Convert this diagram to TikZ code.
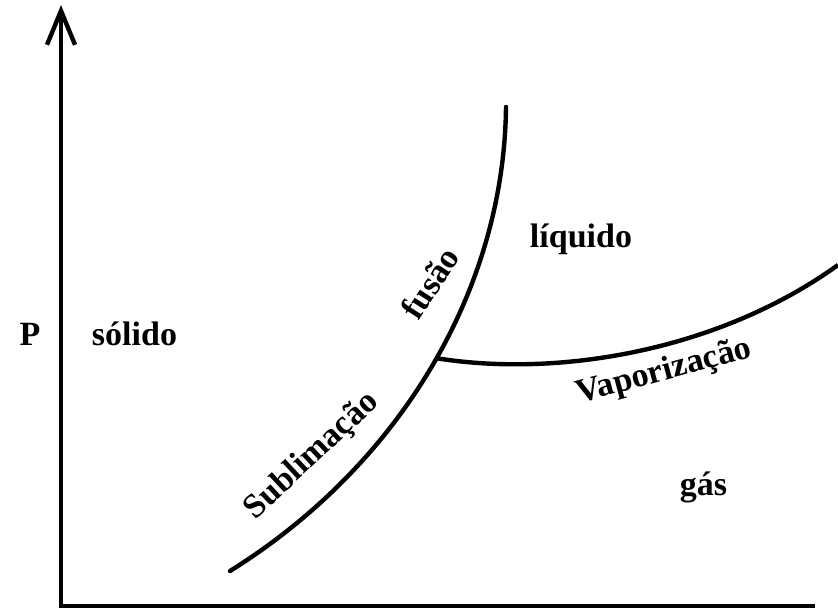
\documentclass[tikz,border=0pt]{standalone}
\usepackage{fontspec}
\setmainfont{Liberation Serif}
\usetikzlibrary{arrows.meta}
\begin{document}
\begin{tikzpicture}[x=1pt,y=-1pt,
  lbl/.style={font=\fontsize{34}{40}\selectfont\bfseries, inner sep=0pt},
  axisline/.style={line width=4.4pt},
  curveline/.style={line width=4.4pt, line cap=round}]
\useasboundingbox (0,0) rectangle (838,608);
% axes
\coordinate (O) at (61,606);
\coordinate (Ytop) at (61,5);
\coordinate (Xend) at (815,606);
\draw[axisline, -{Straight Barb[length=34pt,width=28pt,line width=4.4pt]}] (O) -- (Ytop);
\draw[axisline] ([xshift=-2.2pt]O) -- (Xend);
% sublimation + fusion curve
\coordinate (S0) at (230,571);
\coordinate (F1) at (506,107);
\draw[curveline] (S0) .. controls (400,465) and (504,290) .. coordinate[pos=0.52] (TP) (F1);
% vaporization curve
\coordinate (V1) at (838,265);
\draw[curveline, line cap=butt] (TP) .. controls (560,378) and (720,350) .. (V1);
% labels
\node[lbl, anchor=base] (P) at (30,345) {P};
\node[lbl, anchor=base] (sol) at (134.5,345) {sólido};
\node[lbl, anchor=base] (liq) at (581,247) {líquido};
\node[lbl, anchor=base] (gas) at (703.5,495) {gás};
\node[lbl, rotate=57] (fus) at (430,283) {fusão};
\node[lbl, rotate=43] (sub) at (312,456) {Sublimação};
\node[lbl, rotate=15] (vap) at (664,372) {Vaporização};
\end{tikzpicture}
\end{document}
